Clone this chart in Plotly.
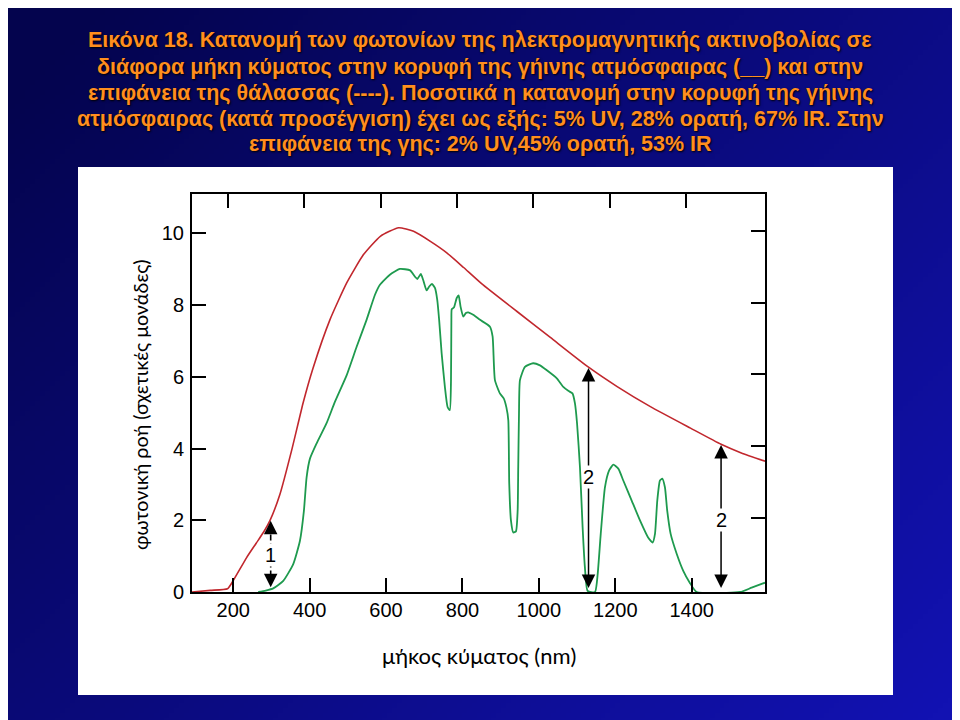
import base64
import struct
import zlib
import plotly.graph_objects as go

# ---------------- data ----------------
# top of the atmosphere (red)
wl_toa = [92, 140, 185, 200, 235, 260, 280, 296, 322, 354, 383.5, 409, 453, 497, 541, 585,
          633, 672, 716, 759, 803, 850, 942, 1030, 1130, 1205, 1292, 1397, 1477, 1530, 1592]
flux_toa = [0.0, 0.045, 0.09, 0.32, 0.96, 1.36, 1.68, 1.99, 2.72, 4.0, 5.3, 6.25, 7.59, 8.62,
            9.41, 9.92, 10.16, 10.06, 9.78, 9.46, 9.05, 8.60, 7.83, 7.10, 6.27, 5.73, 5.17,
            4.57, 4.12, 3.88, 3.65]

# sea-level surface (green)
wl_sfc = [265.4, 285, 304.7, 330.9, 357, 374.6, 385, 392, 400.8, 418, 444, 466,
          497, 523, 549, 571, 584, 610, 636, 663, 676, 682, 691, 697, 706, 713, 720, 728,
          734, 739, 745.5, 754, 761, 767, 770, 771, 772, 778, 785, 790, 795, 802, 809, 815, 828,
          846, 872, 879, 885, 898, 908, 915, 920, 922.5, 927, 933, 940, 944.5, 946, 948, 950.5,
          963.6, 985, 1003, 1020, 1047, 1064, 1077, 1088, 1094.5, 1100, 1107.6, 1114.6, 1120.6,
          1127.7, 1147, 1154, 1162, 1173, 1184, 1195, 1208, 1221, 1243, 1265, 1286, 1298, 1304,
          1310, 1317, 1323, 1330, 1336, 1345, 1361, 1378, 1395, 1413, 1527, 1557, 1592]
flux_sfc = [0.0, 0.04, 0.10, 0.31, 0.78, 1.43, 2.27, 3.2, 3.72, 4.14, 4.7, 5.3,
            6.05, 6.84, 7.59, 8.29, 8.57, 8.85, 9.01, 8.97, 8.79, 8.73, 8.87, 8.71, 8.41,
            8.52, 8.59, 8.48, 8.15, 7.59, 6.66, 5.72, 5.16, 5.07, 5.91, 7.59, 7.89, 7.94, 8.2,
            8.27, 7.96, 7.68, 7.78, 7.8, 7.73, 7.59, 7.4, 7.12, 5.91, 5.54, 5.4, 5.15, 4.79, 3.02,
            1.99, 1.66, 1.69, 2.27, 3.48, 4.98, 5.91, 6.28, 6.38, 6.32, 6.19, 5.96, 5.72, 5.61,
            5.54, 5.26, 4.7, 3.48, 1.8, 0.68, 0.03, 0.0, 0.5, 1.62, 2.92, 3.39, 3.55, 3.44, 3.11,
            2.55, 1.99, 1.52, 1.38, 1.62, 2.55, 3.11, 3.16, 2.92, 2.27, 1.62, 1.06, 0.59, 0.26,
            0.0, 0.0, 0.12, 0.26]

x_ticks = [200, 400, 600, 800, 1000, 1200, 1400]
y_ticks = [0, 2, 4, 6, 8, 10]

arrow_x = [298, 1130, 1477]
arrow_top = [1.99, 6.25, 4.1]
arrow_bottom = [0.13, 0.07, 0.07]
arrow_labels = ["1", "2", "2"]
arrow_label_y = [1.04, 3.2, 2.0]
arrow_dashed = [True, False, False]

x_title = "μήκος κύματος (nm)"
y_title = "φωτονική ροή (σχετικές μονάδες)"
title_lines = [
    "Εικόνα 18. Κατανομή των φωτονίων της ηλεκτρομαγνητικής ακτινοβολίας σε",
    "διάφορα μήκη κύματος στην κορυφή της γήινης ατμόσφαιρας (__) και στην",
    "επιφάνεια της θάλασσας (----). Ποσοτικά η κατανομή στην κορυφή της γήινης",
    "ατμόσφαιρας (κατά προσέγγιση) έχει ως εξής: 5% UV, 28% ορατή, 67% IR. Στην",
    "επιφάνεια της γης: 2% UV,45% ορατή, 53% IR",
]
title_line_y = [40, 67, 93, 119, 144]   # page pixel centres of the title lines

# ---------------- layout geometry (page pixels) ----------------
OFF = 8                      # default body margin of the html page
W, H = 960 - OFF, 720 - OFF  # figure size so it fits the window
PL, PR, PT, PB = 192, 765, 194, 592   # plot box in page pixels
L, R, T, B = PL - OFF, PR - OFF, PT - OFF, PB - OFF
PW, PH = R - L, B - T


def px_x(p):
    return (p - OFF - L) / PW


def px_y(p):
    return (B - (p - OFF)) / PH


def bg_png(w=192, h=144):
    rows = []
    for j in range(h):
        row = bytearray([0])
        for i in range(w):
            u = i / (w - 1)
            v = j / (h - 1)
            t = max(0.0, min(1.0, 0.62 * u + 0.45 * v - 0.05))
            r = int(4 + 14 * t)
            g = int(4 + 14 * t)
            b = int(78 + 100 * t)
            row += bytes([r, g, b])
        rows.append(bytes(row))
    raw = b"".join(rows)

    def chunk(tag, data):
        return (struct.pack(">I", len(data)) + tag + data
                + struct.pack(">I", zlib.crc32(tag + data) & 0xFFFFFFFF))

    png = (b"\x89PNG\r\n\x1a\n"
           + chunk(b"IHDR", struct.pack(">IIBBBBB", w, h, 8, 2, 0, 0, 0))
           + chunk(b"IDAT", zlib.compress(raw, 9))
           + chunk(b"IEND", b""))
    return "data:image/png;base64," + base64.b64encode(png).decode()


RED = "#C1272D"
GREEN = "#1E9A4E"
FONT = "Liberation Sans, Arial, sans-serif"
HUMANIST = "Lato, Noto Sans, sans-serif"

fig = go.Figure()
fig.add_trace(go.Scatter(x=wl_toa, y=flux_toa, mode="lines",
                         line=dict(color=RED, width=1.6, shape="spline", smoothing=0.5),
                         hoverinfo="skip", showlegend=False))
fig.add_trace(go.Scatter(x=wl_sfc, y=flux_sfc, mode="lines",
                         line=dict(color=GREEN, width=1.8, shape="spline", smoothing=0.5),
                         hoverinfo="skip", showlegend=False))
# invisible trace to register mirrored tick axes
fig.add_trace(go.Scatter(x=[x_ticks[0]], y=[y_ticks[1]], xaxis="x2", yaxis="y2", mode="markers",
                         marker=dict(opacity=0), hoverinfo="skip", showlegend=False))

annotations = []
for xa, yt, yb, lab, ly, dashed in zip(arrow_x, arrow_top, arrow_bottom, arrow_labels,
                                        arrow_label_y, arrow_dashed):
    if dashed:
        fig.add_trace(go.Scatter(x=[xa, xa], y=[yb + 0.3, yt - 0.3], mode="lines",
                                 line=dict(color="black", width=1.6, dash="6px,3px"),
                                 hoverinfo="skip", showlegend=False))
        for tip, tail in ((yt, yt - 0.38), (yb, yb + 0.38)):
            annotations.append(dict(x=xa, y=tip, ax=xa, ay=tail, xref="x", yref="y",
                                    axref="x", ayref="y", text="", showarrow=True,
                                    arrowhead=2, arrowsize=1.8, arrowwidth=1.5,
                                    arrowcolor="black"))
    else:
        annotations.append(dict(x=xa, y=yt, ax=xa, ay=yb, xref="x", yref="y",
                                axref="x", ayref="y", text="", showarrow=True,
                                arrowhead=2, startarrowhead=2, arrowside="end+start",
                                arrowsize=1.8, startarrowsize=1.8, arrowwidth=1.5,
                                arrowcolor="black"))
    annotations.append(dict(x=xa, y=ly, xref="x", yref="y", text=lab, showarrow=False,
                            bgcolor="white", borderpad=0,
                            font=dict(family=FONT, size=20, color="black")))

for line, ly in zip(title_lines, title_line_y):
    annotations.append(dict(x=px_x(480), y=px_y(ly), xref="paper", yref="paper",
                            xanchor="center", yanchor="middle", showarrow=False,
                            text=line, align="center",
                            font=dict(family=FONT, size=21.5, color="#FF8E1E", weight="bold",
                                      shadow="1px 1px 2px #000000")))
annotations.append(dict(x=px_x(479), y=px_y(655), xref="paper", yref="paper",
                        xanchor="center", yanchor="middle", showarrow=False, text=x_title,
                        font=dict(family=HUMANIST, size=22, color="black")))
annotations.append(dict(x=px_x(140), y=px_y(405), xref="paper", yref="paper",
                        xanchor="center", yanchor="middle", showarrow=False, text=y_title,
                        textangle=-90,
                        font=dict(family=HUMANIST, size=19.8, color="black")))

axis_common = dict(showgrid=False, zeroline=False, ticks="inside", ticklen=14, tickwidth=2,
                   tickcolor="black")

fig.update_layout(
    width=W, height=H,
    margin=dict(l=L, r=W - R, t=T, b=H - B, pad=0),
    paper_bgcolor="#08085A",
    plot_bgcolor="rgba(0,0,0,0)",
    xaxis=dict(range=[92, 1592], tickvals=x_ticks, showline=True, linecolor="black",
               linewidth=2, mirror=True,
               tickfont=dict(family=FONT, size=20, color="black"), ticklabelstandoff=-1,
               **axis_common),
    yaxis=dict(range=[0, 11.1], tickvals=y_ticks, showline=True, linecolor="black",
               linewidth=2, mirror=True,
               tickfont=dict(family=FONT, size=20, color="black"), ticklabelstandoff=2,
               **axis_common),
    xaxis2=dict(range=[106.4, 1606.4], tickvals=x_ticks, overlaying="x", side="top",
                showticklabels=False, showline=False, **axis_common),
    yaxis2=dict(range=[-0.073, 11.027], tickvals=y_ticks[1:], overlaying="y", side="right",
                showticklabels=False, showline=False, **axis_common),
    images=[dict(source=bg_png(), xref="paper", yref="paper", x=px_x(OFF), y=px_y(OFF),
                 sizex=W / PW, sizey=H / PH, sizing="stretch", xanchor="left",
                 yanchor="top", layer="below")],
    shapes=[dict(type="rect", xref="paper", yref="paper", x0=px_x(78), x1=px_x(893),
                 y0=px_y(695), y1=px_y(167), fillcolor="white", line=dict(width=0),
                 layer="below")],
    annotations=annotations,
)

fig.write_html("out.html")
